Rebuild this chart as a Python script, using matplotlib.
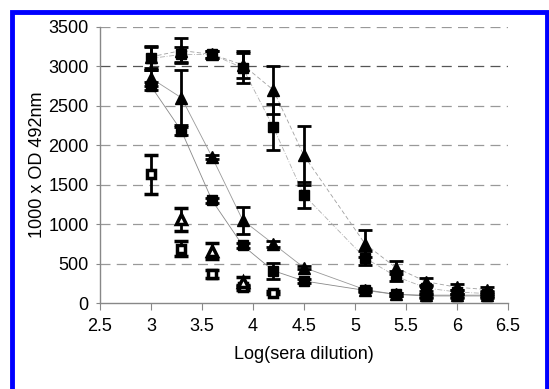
import numpy as np
import matplotlib.pyplot as plt
from matplotlib.patches import Rectangle

plt.rcParams['font.family'] = ['Liberation Sans', 'DejaVu Sans']

x = [3, 3.3, 3.6, 3.9, 4.2, 4.5, 5.1, 5.4, 5.7, 6.0, 6.3]

# series with the late drop (dashed lines)
sq_a = [3100, 3150, 3150, 2980, 2230, 1370, 570, 340, 190, 140, 120]
sq_a_err = [150, 100, 40, 190, 290, 170, 90, 60, 40, 30, 30]
tri_b = [3120, 3200, 3150, 3020, 2700, 1870, 750, 450, 270, 200, 170]
tri_b_err = [140, 160, 40, 170, 300, 370, 170, 80, 50, 40, 30]

# series with the early drop (solid lines)
tri_c = [2850, 2600, 1850, 1050, 750, 450, 170, 110, 100, 100, 100]
tri_c_err = [100, 350, 30, 170, 40, 20, 20, 20, 20, 20, 20]
sq_d = [2750, 2180, 1300, 730, 410, 280, 160, 110, 90, 90, 90]
sq_d_err = [50, 50, 30, 30, 100, 20, 20, 20, 20, 20, 20]

# controls (no line)
x_ctl = [3, 3.3, 3.6, 3.9, 4.2]
sq_ctl = [1630, 690, 370, 200, 130]
sq_ctl_err = [250, 100, 50, 30, 20]
x_ctl2 = [3.3, 3.6, 3.9]
tri_ctl = [1060, 660, 270]
tri_ctl_err = [150, 100, 60]

fig = plt.figure(figsize=(5.49, 3.89), dpi=100)
ax = fig.add_axes([0.182, 0.221, 0.743, 0.71])

for v in range(500, 3501, 500):
    c = '#555555' if v == 3000 else '#999999'
    ax.axhline(v, color=c, lw=0.9, ls=(0, (8, 5)), zorder=0)

ekw = dict(ecolor='black', elinewidth=2, capsize=5, capthick=2, zorder=3)

ax.errorbar(x, sq_a, yerr=sq_a_err, fmt='s', ms=7.5, mfc='black', mec='black', **ekw)
ax.plot(x, sq_a, color='#b0b0b0', lw=0.6, ls=(0, (6, 2, 1, 2)), zorder=2)
ax.errorbar(x, tri_b, yerr=tri_b_err, fmt='^', ms=8.5, mfc='black', mec='black', **ekw)
ax.plot(x, tri_b, color='#a0a0a0', lw=0.6, ls=(0, (5, 3)), zorder=2)

ax.errorbar(x, tri_c, yerr=tri_c_err, fmt='^', ms=8.5, mfc='black', mec='black', **ekw)
ax.plot(x, tri_c, color='#999999', lw=0.6, zorder=2)
ax.errorbar(x, sq_d, yerr=sq_d_err, fmt='s', ms=7.5, mfc='black', mec='black', **ekw)
ax.plot(x, sq_d, color='#888888', lw=0.6, zorder=2)

ax.errorbar(x_ctl, sq_ctl, yerr=sq_ctl_err, fmt='s', ms=6, mfc='white', mec='black', mew=2.5, **ekw)
ax.errorbar(x_ctl2, tri_ctl, yerr=tri_ctl_err, fmt='^', ms=7, mfc='white', mec='black', mew=2.5, **ekw)

ax.set_xlim(2.5, 6.5)
ax.set_ylim(0, 3500)
ax.set_xticks(np.arange(2.5, 6.51, 0.5))
ax.set_xticklabels(['2.5', '3', '3.5', '4', '4.5', '5', '5.5', '6', '6.5'])
ax.set_yticks(range(0, 3501, 500))
for s in ['top', 'right']:
    ax.spines[s].set_visible(False)
for s in ['left', 'bottom']:
    ax.spines[s].set_color('#888888')
    ax.spines[s].set_linewidth(1)
ax.tick_params(axis='x', direction='out', length=5, color='#888888', labelsize=13, pad=6)
ax.tick_params(axis='y', direction='out', length=3, color='#888888', labelsize=13, pad=5)
ax.set_xlabel('Log(sera dilution)', fontsize=13, labelpad=8)
ax.set_ylabel('1000 x OD 492nm', fontsize=13, labelpad=2)

fig.patches.append(Rectangle((11.5 / 549, -0.1), (547 - 11.5) / 549, 1.1 - 12 / 389,
                             transform=fig.transFigure, fill=False, ec='blue', lw=3.5))

fig.savefig('out.png', dpi=100)
